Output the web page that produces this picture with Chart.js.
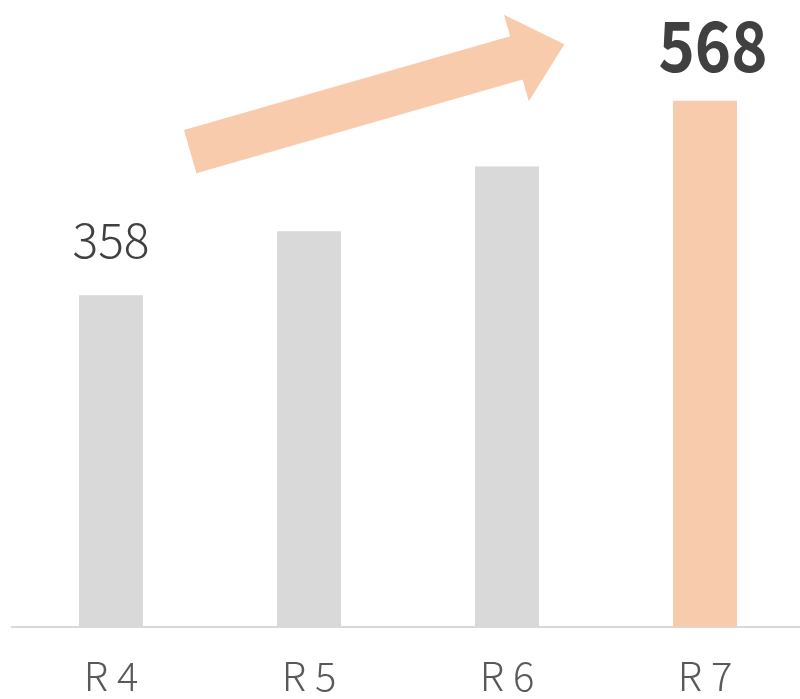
<!DOCTYPE html>
<html>
<head>
<meta charset="utf-8">
<script src="https://cdn.jsdelivr.net/npm/chart.js@4"></script>
<style>
  html, body { margin: 0; padding: 0; background: #fff; overflow: hidden; }
  #wrap { width: 806px; height: 725px; position: relative; }
</style>
</head>
<body>
<div id="wrap"><canvas id="barChart"></canvas></div>
<script>
// data
const years = ['R 4', 'R 5', 'R 6', 'R 7'];
const counts = [358, 427, 497, 568];
const barColors = ['#d9d9d9', '#d9d9d9', '#d9d9d9', '#f8cbad'];
const showValue = [true, false, false, true];

const FONT = '"Noto Sans CJK JP", "Noto Sans", sans-serif';

// value labels over first and last bar + trend arrow
const extras = {
  id: 'extras',
  afterDatasetsDraw(chart) {
    const ctx = chart.ctx;
    const meta = chart.getDatasetMeta(0);
    const xs = chart.scales.x, ys = chart.scales.y;

    ctx.save();
    ctx.textAlign = 'center';
    ctx.textBaseline = 'alphabetic';
    ctx.fillStyle = '#404040';
    meta.data.forEach((bar, i) => {
      if (!showValue[i]) return;
      const last = i === counts.length - 1;
      ctx.save();
      if (last) {
        // the original font is a little narrower
        ctx.font = `bold 70px ${FONT}`;
        ctx.translate(bar.x + 8, bar.y - 29);
        ctx.scale(0.88, 1);
        ctx.fillText(String(counts[i]), 0, 0);
      } else {
        ctx.font = `300 48px ${FONT}`;
        ctx.fillText(String(counts[i]), bar.x, bar.y - 37);
      }
      ctx.restore();
    });

    // arrow
    const x0 = xs.getPixelForValue(0.4), y0 = ys.getPixelForValue(513);
    const x1 = xs.getPixelForValue(2.29), y1 = ys.getPixelForValue(629);
    const len = Math.hypot(x1 - x0, y1 - y0);
    const ang = Math.atan2(y1 - y0, x1 - x0);
    const shaft = 45, headLen = 50, headW = 90;
    ctx.translate(x0, y0);
    ctx.rotate(ang);
    ctx.fillStyle = '#f8cbad';
    ctx.beginPath();
    ctx.moveTo(0, -shaft / 2);
    ctx.lineTo(len - headLen, -shaft / 2);
    ctx.lineTo(len - headLen, -headW / 2);
    ctx.lineTo(len, 0);
    ctx.lineTo(len - headLen, headW / 2);
    ctx.lineTo(len - headLen, shaft / 2);
    ctx.lineTo(0, shaft / 2);
    ctx.closePath();
    ctx.fill();
    ctx.restore();
  }
};

new Chart(document.getElementById('barChart').getContext('2d'), {
  type: 'bar',
  data: {
    labels: years,
    datasets: [{
      data: counts,
      backgroundColor: barColors,
      barPercentage: 0.323,
      categoryPercentage: 1
    }]
  },
  options: {
    responsive: true,
    maintainAspectRatio: false,
    animation: false,
    layout: { padding: { top: 71, left: 12, right: 2, bottom: 0 } },
    plugins: { legend: { display: false }, tooltip: { enabled: false } },
    scales: {
      x: {
        grid: { display: false, drawTicks: false },
        border: { display: true, color: '#d9d9d9', width: 2 },
        ticks: {
          color: '#595959',
          padding: 25,
          font: { family: FONT, size: 40, weight: 300, lineHeight: 1.2 }
        }
      },
      y: {
        display: false,
        min: 0,
        max: 600
      }
    }
  },
  plugins: [extras]
});
</script>
</body>
</html>
